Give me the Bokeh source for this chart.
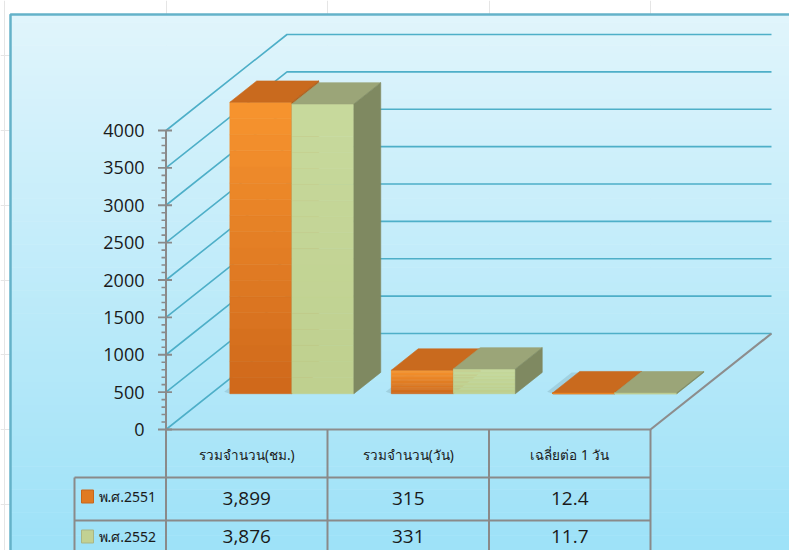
import numpy as np
from bokeh.plotting import figure
from bokeh.models import Range1d
from bokeh.core.properties import value
from bokeh.embed import file_html
from bokeh.resources import INLINE

# ---------------- data ----------------
categories = ["รวมจำนวน(ชม.)", "รวมจำนวน(วัน)", "เฉลี่ยต่อ 1 วัน"]
series_names = ["พ.ศ.2551", "พ.ศ.2552"]
values_2551 = [3899, 315, 12.4]
values_2552 = [3876, 331, 11.7]
table_2551 = ["3,899", "315", "12.4"]
table_2552 = ["3,876", "331", "11.7"]
y_ticks = [0, 500, 1000, 1500, 2000, 2500, 3000, 3500, 4000]
y_minor_step = 100

# ---------------- layout (picture pixels) ----------------
W, H = 789, 550
CAT_X0 = 165.5          # x of category 0 (front-left corner)
CAT_W = 161.5           # pixels per category
VAL_Y0 = 429.0          # y of value 0 (front floor edge)
VAL_SCALE = 299.0 / 4000.0  # pixels per value unit
DEPTH_PX_X, DEPTH_PX_Y = 121.0, 96.0
DXC = DEPTH_PX_X / CAT_W
DYV = DEPTH_PX_Y / VAL_SCALE
BAR_W = 0.384
D0, D1 = 0.373, 0.595


def X(px):
    return (px - CAT_X0) / CAT_W


def Y(py):
    return (VAL_Y0 - py) / VAL_SCALE


def proj(x, v, d):
    return x + d * DXC, v + d * DYV


p = figure(width=W, height=H, output_backend="svg", toolbar_location=None,
           x_axis_location=None, y_axis_location=None, min_border=0,
           x_range=Range1d(X(0), X(W)), y_range=Range1d(Y(H), Y(0)))
p.outline_line_color = None
p.background_fill_color = "white"
p.border_fill_color = "white"

# ---------------- panel background gradient ----------------
n_bands = 70
top_c = np.array([224, 245, 252])
bot_c = np.array([158, 226, 248])
edges = np.linspace(14, H, n_bands + 1)
cols = []
for i in range(n_bands):
    t = i / (n_bands - 1)
    c = (top_c * (1 - t) + bot_c * t).astype(int)
    cols.append("#%02x%02x%02x" % tuple(c))
p.quad(left=[X(10)] * n_bands, right=[X(W)] * n_bands,
       top=[Y(e) for e in edges[:-1]], bottom=[Y(min(e + 0.6, H)) for e in edges[1:]],
       fill_color=cols, line_color=None)
p.line([X(10), X(10), X(W)], [Y(H), Y(14), Y(14)], line_color="#64b2c9", line_width=2.5)

# ---------------- gridlines (walls) ----------------
grid_col = "#4eafc8"
for v in y_ticks:
    x0, y0 = proj(0, v, 0)
    x1, y1 = proj(0, v, 1)
    x2, y2 = proj(3, v, 1)
    p.line([x0, x1, x2], [y0, y1, y2], line_color=grid_col, line_width=1.6)

# floor front / right edges
fx0, fy0 = proj(0, 0, 0)
fx1, fy1 = proj(3, 0, 0)
fx2, fy2 = proj(3, 0, 1)
p.line([fx0, fx1, fx2], [fy0, fy1, fy2], line_color="#8d8d8d", line_width=2.2)

# ---------------- y axis (drawn) ----------------
axis_col = "#8a8a8a"
p.line([0, 0], [0, y_ticks[-1]], line_color=axis_col, line_width=2)
minor = [v for v in range(0, y_ticks[-1] + 1, y_minor_step) if v % 500 != 0]
p.segment(x0=[-4.5 / CAT_W] * len(minor), x1=[0] * len(minor), y0=minor, y1=minor,
          line_color=axis_col, line_width=1.6)
p.segment(x0=[-8 / CAT_W] * len(y_ticks), x1=[6 / CAT_W] * len(y_ticks), y0=y_ticks, y1=y_ticks,
          line_color=axis_col, line_width=1.8)
p.text(x=[X(144)] * len(y_ticks), y=y_ticks, text=[str(v) for v in y_ticks],
       text_align="right", text_baseline="middle", text_font=value("Open Sans"),
       text_font_size="18px", text_color="#1a1a1a")

# ---------------- 3D bars ----------------
def hexmix(a, b, t):
    a = np.array([int(a[i:i + 2], 16) for i in (1, 3, 5)])
    b = np.array([int(b[i:i + 2], 16) for i in (1, 3, 5)])
    c = (a * (1 - t) + b * t).astype(int)
    return "#%02x%02x%02x" % tuple(c)


styles = [
    dict(front_top="#f8952f", front_bot="#cf681b", top="#c96a1e", side="#b25e19"),
    dict(front_top="#c8da9d", front_bot="#bfd08f", top="#9ba578", side="#7f8961"),
]
series = [values_2551, values_2552]
n_slices = 18
for ci in range(len(categories)):
    for si, vals in enumerate(series):
        v = vals[ci]
        st = styles[si]
        xl = ci + 0.5 - BAR_W + si * BAR_W
        xr = xl + BAR_W
        # soft base shadow
        sh = [proj(xl - 0.05, 0, D0 + 0.02), proj(xl, 0, D0), proj(xl, 0, D1), proj(xl - 0.05, 0, D1)]
        if si == 0:
            p.patch([q[0] for q in sh], [q[1] for q in sh], fill_color="#7fa7b3",
                    fill_alpha=0.35, line_color=None)
        # front face as vertical gradient slices
        xs_list, ys_list, fc = [], [], []
        for k in range(n_slices):
            a = v * k / n_slices
            b = v * (k + 1) / n_slices
            pa = [proj(xl, a, D0), proj(xr, a, D0), proj(xr, b, D0), proj(xl, b, D0)]
            xs_list.append([q[0] for q in pa])
            ys_list.append([q[1] for q in pa])
            fc.append(hexmix(st["front_bot"], st["front_top"], (k + 0.5) / n_slices))
        p.patches(xs_list, ys_list, fill_color=fc, line_color=fc, line_width=0.6)
        # top face
        tp = [proj(xl, v, D0), proj(xr, v, D0), proj(xr, v, D1), proj(xl, v, D1)]
        p.patch([q[0] for q in tp], [q[1] for q in tp], fill_color=st["top"],
                line_color=st["top"], line_width=0.6)
        # side face
        sp = [proj(xr, 0, D0), proj(xr, v, D0), proj(xr, v, D1), proj(xr, 0, D1)]
        p.patch([q[0] for q in sp], [q[1] for q in sp], fill_color=st["side"],
                line_color=st["side"], line_width=0.6)

# ---------------- data table ----------------
tab_col = "#8a8a8a"
bottom = Y(H)
for c in range(len(categories) + 1):
    p.line([c, c], [0, bottom], line_color=tab_col, line_width=2)
for py in (477, 520):
    p.line([X(74), len(categories)], [Y(py), Y(py)], line_color=tab_col, line_width=2)
p.line([X(74), X(74)], [Y(477), bottom], line_color=tab_col, line_width=2)

cx = [c + 0.5 for c in range(len(categories))]
p.text(x=cx, y=[Y(454)] * 3, text=categories, text_align="center", text_baseline="middle",
       text_font=value("Noto Sans"), text_font_size="13.5px", text_color="#1a1a1a")
p.text(x=cx, y=[Y(498)] * 3, text=table_2551, text_align="center", text_baseline="middle",
       text_font=value("Open Sans"), text_font_size="19px", text_color="#1a1a1a")
p.text(x=cx, y=[Y(536)] * 3, text=table_2552, text_align="center", text_baseline="middle",
       text_font=value("Open Sans"), text_font_size="19px", text_color="#1a1a1a")

# legend keys
sw_cols = ["#e07a22", "#c2d193"]
sw_top = ["#c8661a", "#a9b585"]
for i, py in enumerate((496, 536)):
    p.quad(left=[X(81)], right=[X(93)], top=[Y(py - 6.5)], bottom=[Y(py + 6.5)],
           fill_color=sw_cols[i], line_color=sw_top[i], line_width=1)
p.text(x=[X(98)] * 2, y=[Y(496), Y(536)], text=series_names, text_align="left",
       text_baseline="middle", text_font=value("Noto Sans"), text_font_size="14px",
       text_color="#1a1a1a")

open("out.html", "w").write(file_html(p, INLINE))
